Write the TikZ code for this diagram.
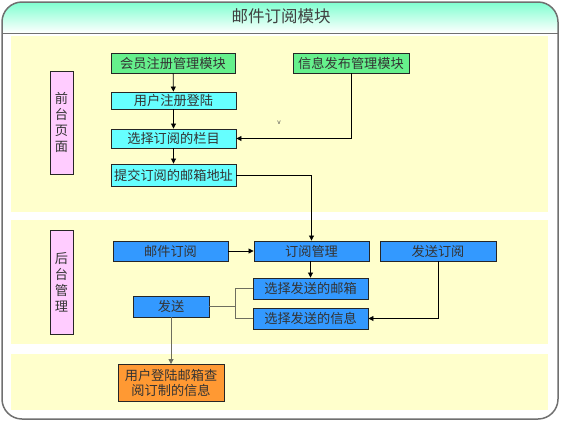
\documentclass[tikz,border=0pt]{standalone}
\usepackage{fontspec}
\setmainfont{Noto Sans CJK SC}
\usepackage{xcolor}
\usetikzlibrary{arrows.meta}

\definecolor{panel}{HTML}{FFFFCC}
\definecolor{mint}{HTML}{7FFFD0}
\definecolor{greenbox}{HTML}{66F08C}
\definecolor{cyanbox}{HTML}{66FFFF}
\definecolor{bluebox}{HTML}{3399FF}
\definecolor{pinkbox}{HTML}{FFCCFF}
\definecolor{orangebox}{HTML}{FF9933}
\definecolor{frameline}{HTML}{707070}
\definecolor{sendline}{HTML}{6E6E5E}

\begin{document}
\begin{tikzpicture}[x=1pt, y=-1pt,
    box/.style={draw=black!85, line width=0.9pt, inner sep=0pt, text=black!80, font=\fontsize{13.2}{15.5}\selectfont},
    side/.style={box, fill=pinkbox, minimum width=23pt, align=center, font=\fontsize{13.2}{16}\selectfont},
    arr/.style={-{Triangle[length=5pt,width=5pt]}, line width=0.8pt}]
          \useasboundingbox (0,0) rectangle (561,421);
          % frame and title
          \fill [white, rounded corners=20pt] (2,2) rectangle (558,419);
          \shade [top color=mint, bottom color=white, rounded corners=20pt] (2,33) -- (2,2) -- (558,2) [sharp corners] -- (558,33) -- cycle;
          \draw [frameline, line width=1.5pt, rounded corners=20pt] (2,2) rectangle (558,419);
          \draw [frameline, line width=1pt] (2,33) -- (558,33);
          \node [text=black!75, font=\fontsize{16.5}{19}\selectfont] (title) at (281,16) {邮件订阅模块};
          \fill [panel] (11,36) rectangle (548,212);
          \fill [panel] (11,220) rectangle (548,344);
          \fill [panel] (11,354) rectangle (548,410);
          % front pages
          \node [side, minimum height=103pt] (qt) at (61.5,122.5) {前\\台\\页\\面};
          \node [box, fill=greenbox, minimum width=124pt, minimum height=20pt] (hyzc) at (173,63) {会员注册管理模块};
          \node [box, fill=greenbox, minimum width=116pt, minimum height=20pt] (xxfb) at (351,63) {信息发布管理模块};
          \node [box, fill=cyanbox, minimum width=125pt, minimum height=17pt] (yhdl) at (173.5,100.5) {用户注册登陆};
          \node [box, fill=cyanbox, minimum width=125pt, minimum height=19pt] (xzlm) at (173.5,138.5) {选择订阅的栏目};
          \node [box, fill=cyanbox, minimum width=125pt, minimum height=22pt] (tjyx) at (173.5,175) {提交订阅的邮箱地址};
          \node [text=black!70, font=\fontsize{6.5}{7}\selectfont] (vmark) at (279,123) {v};
          % back end
          \node [side, minimum height=104pt] (ht) at (61.5,282) {后\\台\\管\\理};
          \node [box, fill=bluebox, minimum width=115pt, minimum height=20pt] (yjdy) at (170.5,251) {邮件订阅};
          \node [box, fill=bluebox, minimum width=115pt, minimum height=20pt] (dygl) at (311.5,251) {订阅管理};
          \node [box, fill=bluebox, minimum width=116pt, minimum height=20pt] (fsdy) at (438,251) {发送订阅};
          \node [box, fill=bluebox, minimum width=115pt, minimum height=21pt] (xzyx) at (310.5,288.5) {选择发送的邮箱};
          \node [box, fill=bluebox, minimum width=115pt, minimum height=21pt] (xzxx) at (310.5,318.5) {选择发送的信息};
          \node [box, fill=bluebox, minimum width=76pt, minimum height=21pt] (fs) at (171,306.5) {发送};
          \coordinate (fork) at (235,306.5);
          % user side
          \node [box, fill=orangebox, minimum width=106pt, minimum height=37pt, align=center] (cxxx) at (171,383) {用户登陆邮箱查\\阅订制的信息};
          % connectors
          \draw [arr] (hyzc) -- (yhdl);
          \draw [arr] (yhdl) -- (xzlm);
          \draw [arr] (xzlm) -- (tjyx);
          \draw [arr] (xxfb.south) |- (xzlm.east);
          \draw [arr] (tjyx.east) -| (dygl.north);
          \draw [arr] (yjdy) -- (dygl);
          \draw [arr] (dygl.south -| xzyx.north) -- (xzyx.north);
          \draw [arr] (fsdy.south) |- (xzxx.east);
          \draw [sendline, line width=0.9pt] (fs.east) -- (fork);
          \draw [sendline, line width=0.9pt] (fork) |- (xzyx.west);
          \draw [sendline, line width=0.9pt] (fork) |- (xzxx.west);
          \draw [arr, sendline] (fs.south) -- (cxxx.north);
        \end{tikzpicture}
\end{document}
